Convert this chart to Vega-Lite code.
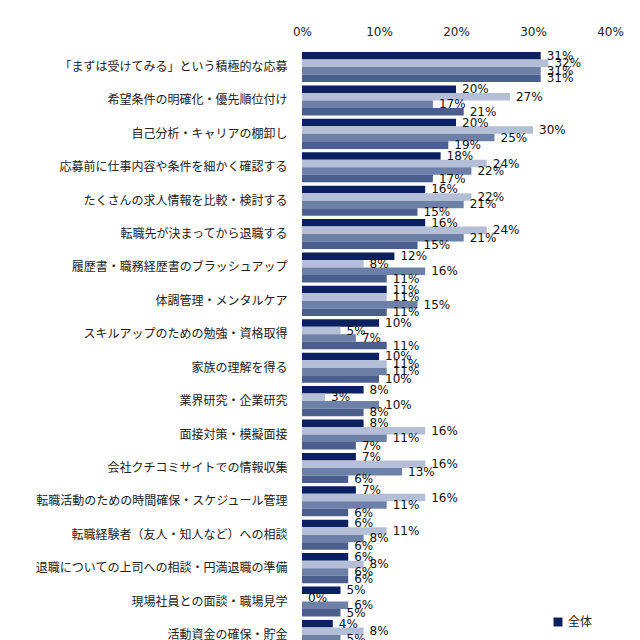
{
  "$schema": "https://vega.github.io/schema/vega-lite/v6.json",
  "width": 308,
  "height": 602,
  "padding": {"top": 25, "left": 34, "right": 5, "bottom": 5},
  "background": "white",
  "config": {"view": {"stroke": null}},
  "data": {"values": [
    {"c": "「まずは受けてみる」という積極的な応募", "s": "全体", "v": 0.31},
    {"c": "「まずは受けてみる」という積極的な応募", "s": "20代", "v": 0.32},
    {"c": "「まずは受けてみる」という積極的な応募", "s": "30代", "v": 0.31},
    {"c": "「まずは受けてみる」という積極的な応募", "s": "40代以上", "v": 0.31},
    {"c": "希望条件の明確化・優先順位付け", "s": "全体", "v": 0.20},
    {"c": "希望条件の明確化・優先順位付け", "s": "20代", "v": 0.27},
    {"c": "希望条件の明確化・優先順位付け", "s": "30代", "v": 0.17},
    {"c": "希望条件の明確化・優先順位付け", "s": "40代以上", "v": 0.21},
    {"c": "自己分析・キャリアの棚卸し", "s": "全体", "v": 0.20},
    {"c": "自己分析・キャリアの棚卸し", "s": "20代", "v": 0.30},
    {"c": "自己分析・キャリアの棚卸し", "s": "30代", "v": 0.25},
    {"c": "自己分析・キャリアの棚卸し", "s": "40代以上", "v": 0.19},
    {"c": "応募前に仕事内容や条件を細かく確認する", "s": "全体", "v": 0.18},
    {"c": "応募前に仕事内容や条件を細かく確認する", "s": "20代", "v": 0.24},
    {"c": "応募前に仕事内容や条件を細かく確認する", "s": "30代", "v": 0.22},
    {"c": "応募前に仕事内容や条件を細かく確認する", "s": "40代以上", "v": 0.17},
    {"c": "たくさんの求人情報を比較・検討する", "s": "全体", "v": 0.16},
    {"c": "たくさんの求人情報を比較・検討する", "s": "20代", "v": 0.22},
    {"c": "たくさんの求人情報を比較・検討する", "s": "30代", "v": 0.21},
    {"c": "たくさんの求人情報を比較・検討する", "s": "40代以上", "v": 0.15},
    {"c": "転職先が決まってから退職する", "s": "全体", "v": 0.16},
    {"c": "転職先が決まってから退職する", "s": "20代", "v": 0.24},
    {"c": "転職先が決まってから退職する", "s": "30代", "v": 0.21},
    {"c": "転職先が決まってから退職する", "s": "40代以上", "v": 0.15},
    {"c": "履歴書・職務経歴書のブラッシュアップ", "s": "全体", "v": 0.12},
    {"c": "履歴書・職務経歴書のブラッシュアップ", "s": "20代", "v": 0.08},
    {"c": "履歴書・職務経歴書のブラッシュアップ", "s": "30代", "v": 0.16},
    {"c": "履歴書・職務経歴書のブラッシュアップ", "s": "40代以上", "v": 0.11},
    {"c": "体調管理・メンタルケア", "s": "全体", "v": 0.11},
    {"c": "体調管理・メンタルケア", "s": "20代", "v": 0.11},
    {"c": "体調管理・メンタルケア", "s": "30代", "v": 0.15},
    {"c": "体調管理・メンタルケア", "s": "40代以上", "v": 0.11},
    {"c": "スキルアップのための勉強・資格取得", "s": "全体", "v": 0.10},
    {"c": "スキルアップのための勉強・資格取得", "s": "20代", "v": 0.05},
    {"c": "スキルアップのための勉強・資格取得", "s": "30代", "v": 0.07},
    {"c": "スキルアップのための勉強・資格取得", "s": "40代以上", "v": 0.11},
    {"c": "家族の理解を得る", "s": "全体", "v": 0.10},
    {"c": "家族の理解を得る", "s": "20代", "v": 0.11},
    {"c": "家族の理解を得る", "s": "30代", "v": 0.11},
    {"c": "家族の理解を得る", "s": "40代以上", "v": 0.10},
    {"c": "業界研究・企業研究", "s": "全体", "v": 0.08},
    {"c": "業界研究・企業研究", "s": "20代", "v": 0.03},
    {"c": "業界研究・企業研究", "s": "30代", "v": 0.10},
    {"c": "業界研究・企業研究", "s": "40代以上", "v": 0.08},
    {"c": "面接対策・模擬面接", "s": "全体", "v": 0.08},
    {"c": "面接対策・模擬面接", "s": "20代", "v": 0.16},
    {"c": "面接対策・模擬面接", "s": "30代", "v": 0.11},
    {"c": "面接対策・模擬面接", "s": "40代以上", "v": 0.07},
    {"c": "会社クチコミサイトでの情報収集", "s": "全体", "v": 0.07},
    {"c": "会社クチコミサイトでの情報収集", "s": "20代", "v": 0.16},
    {"c": "会社クチコミサイトでの情報収集", "s": "30代", "v": 0.13},
    {"c": "会社クチコミサイトでの情報収集", "s": "40代以上", "v": 0.06},
    {"c": "転職活動のための時間確保・スケジュール管理", "s": "全体", "v": 0.07},
    {"c": "転職活動のための時間確保・スケジュール管理", "s": "20代", "v": 0.16},
    {"c": "転職活動のための時間確保・スケジュール管理", "s": "30代", "v": 0.11},
    {"c": "転職活動のための時間確保・スケジュール管理", "s": "40代以上", "v": 0.06},
    {"c": "転職経験者（友人・知人など）への相談", "s": "全体", "v": 0.06},
    {"c": "転職経験者（友人・知人など）への相談", "s": "20代", "v": 0.11},
    {"c": "転職経験者（友人・知人など）への相談", "s": "30代", "v": 0.08},
    {"c": "転職経験者（友人・知人など）への相談", "s": "40代以上", "v": 0.06},
    {"c": "退職についての上司への相談・円満退職の準備", "s": "全体", "v": 0.06},
    {"c": "退職についての上司への相談・円満退職の準備", "s": "20代", "v": 0.08},
    {"c": "退職についての上司への相談・円満退職の準備", "s": "30代", "v": 0.06},
    {"c": "退職についての上司への相談・円満退職の準備", "s": "40代以上", "v": 0.06},
    {"c": "現場社員との面談・職場見学", "s": "全体", "v": 0.05},
    {"c": "現場社員との面談・職場見学", "s": "20代", "v": 0.0},
    {"c": "現場社員との面談・職場見学", "s": "30代", "v": 0.06},
    {"c": "現場社員との面談・職場見学", "s": "40代以上", "v": 0.05},
    {"c": "活動資金の確保・貯金", "s": "全体", "v": 0.04},
    {"c": "活動資金の確保・貯金", "s": "20代", "v": 0.08},
    {"c": "活動資金の確保・貯金", "s": "30代", "v": 0.05},
    {"c": "活動資金の確保・貯金", "s": "40代以上", "v": 0.04}
  ]},
  "encoding": {
    "y": {
      "field": "c", "type": "nominal", "sort": null, "title": null,
      "scale": {"paddingInner": 0.1, "paddingOuter": 0.06},
      "axis": {"domain": false, "ticks": false, "labelPadding": 15, "labelFont": "Noto Sans CJK JP", "labelFontSize": 12, "labelColor": "#222222", "labelLimit": 400}
    },
    "yOffset": {"field": "s", "type": "nominal", "sort": ["全体", "20代", "30代", "40代以上"]},
    "x": {
      "field": "v", "type": "quantitative", "title": null,
      "scale": {"domain": [0, 0.4], "nice": false},
      "axis": {"orient": "top", "values": [0, 0.1, 0.2, 0.3, 0.4], "format": ".0%", "grid": false, "domain": false, "ticks": false, "labelFlush": false, "labelPadding": 12, "labelFont": "DejaVu Sans", "labelFontSize": 12, "labelColor": "#222222"}
    }
  },
  "layer": [
    {
      "mark": {"type": "bar"},
      "encoding": {
        "color": {
          "field": "s", "type": "nominal", "title": null,
          "scale": {"domain": ["全体", "20代", "30代", "40代以上"], "range": ["#0b2060", "#b5bed7", "#6d80a8", "#4b5f8f"]},
          "legend": {"orient": "none", "legendX": 250, "legendY": 566, "symbolType": "square", "symbolSize": 80, "symbolStrokeWidth": 0, "labelFont": "Noto Sans CJK JP", "labelFontSize": 12, "labelColor": "#222222", "rowPadding": 16}
        }
      }
    },
    {
      "mark": {"type": "text", "align": "left", "baseline": "middle", "dx": 6, "font": "DejaVu Sans", "fontSize": 12, "color": "#111111"},
      "encoding": {"text": {"field": "v", "type": "quantitative", "format": ".0%"}}
    }
  ]
}
